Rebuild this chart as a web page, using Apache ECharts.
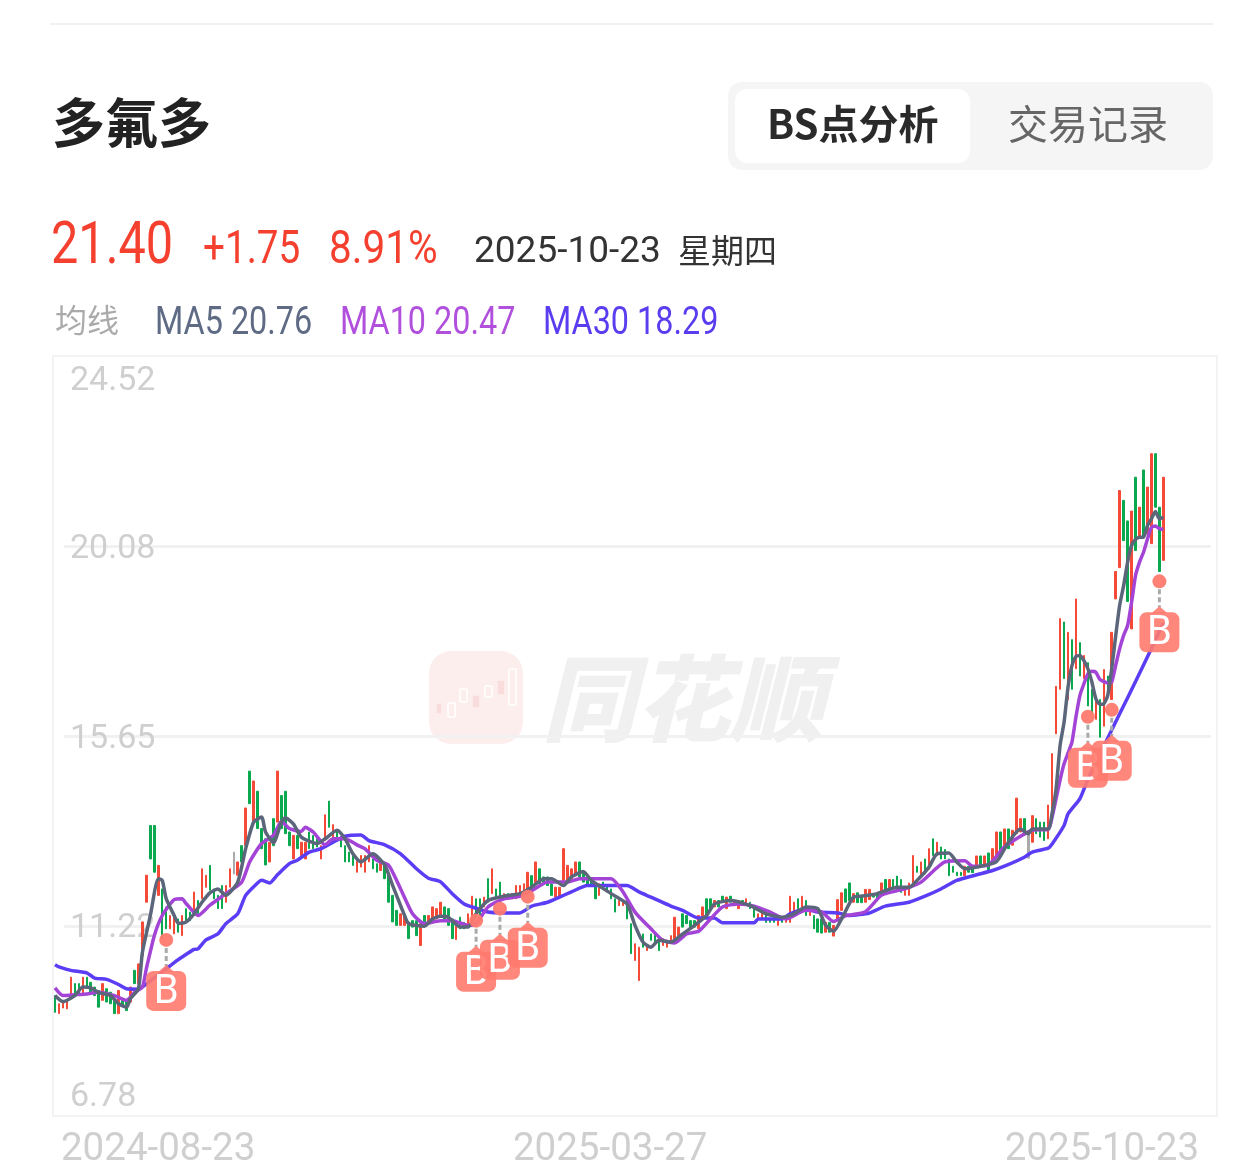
<!DOCTYPE html>
<html>
<head>
<meta charset="utf-8">
<title>多氟多</title>
<script src="https://cdn.jsdelivr.net/npm/echarts@6/dist/echarts.min.js"></script>
<style>
html, body { margin: 0; padding: 0; background: #fff; }
#chart { width: 1260px; height: 1172px; }
</style>
</head>
<body>
<div id="chart"></div>
<script>
var tickLabels = ['2024-08-23', '2025-03-27', '2025-10-23'];
var tickIndex = [0, 141, 292];
var yTicks = [6.78, 11.22, 15.65, 20.08, 24.52];

var opens = [
    9.59, 9.17, 9.30, 9.28, 9.59, 9.87, 9.87, 9.59, 10.02, 9.90,
    9.79, 9.71, 9.48, 9.75, 9.67, 9.48, 9.17, 9.48, 9.44, 9.44,
    10.18, 9.87, 10.53, 11.77, 13.56, 13.56, 11.93, 12.08, 11.66, 11.15,
    11.03, 11.38, 10.99, 11.62, 11.54, 11.46, 11.81, 11.85, 12.12, 12.63,
    12.08, 11.93, 12.16, 11.77, 12.12, 12.94, 12.40, 13.09, 13.09, 14.83,
    13.68, 14.36, 13.49, 13.25, 12.71, 13.72, 13.64, 14.26, 14.36, 13.41,
    12.78, 13.33, 12.86, 12.78, 13.41, 13.33, 13.25, 12.78, 13.21, 14.13,
    13.25, 13.45, 13.25, 13.09, 12.94, 12.90, 12.47, 12.59, 12.47, 12.71,
    12.78, 12.67, 12.51, 12.63, 12.40, 11.93, 11.58, 11.23, 11.23, 11.31,
    11.34, 11.34, 10.76, 11.46, 11.31, 11.38, 11.38, 11.46, 11.66, 11.62,
    11.38, 10.90, 11.42, 11.30, 11.23, 11.34, 11.85, 11.85, 11.66, 12.32,
    11.97, 12.08, 12.24, 11.85, 11.97, 11.85, 11.85, 11.93, 12.01, 12.01,
    12.39, 12.20, 12.55, 12.36, 12.36, 12.20, 11.89, 11.89, 12.28, 12.24,
    12.32, 12.39, 12.71, 12.47, 12.32, 12.28, 12.16, 11.93, 12.24, 12.16,
    12.08, 11.85, 11.69, 11.69, 11.81, 11.27, 10.41, 9.94, 11.03, 10.64,
    11.03, 11.03, 10.88, 10.76, 10.72, 10.84, 10.84, 10.99, 11.50, 11.46,
    11.34, 11.34, 11.15, 11.38, 11.85, 11.85, 11.66, 11.81, 11.91, 11.62,
    11.91, 11.69, 11.62, 11.81, 11.73, 11.77, 11.66, 11.38, 11.38, 11.54,
    11.38, 11.42, 11.23, 11.42, 11.30, 11.30, 11.54, 11.85, 11.66, 11.81,
    11.46, 11.46, 11.38, 11.38, 11.07, 11.30, 10.98, 11.34, 11.58, 12.08,
    12.22, 11.77, 11.99, 11.93, 11.77, 11.83, 11.97, 11.97, 12.00, 12.30,
    12.08, 12.30, 12.38, 12.30, 11.93, 11.93, 12.22, 12.61, 12.39, 12.78,
    12.55, 13.25, 12.86, 13.06, 13.00, 12.78, 12.61, 12.47, 12.47, 12.39,
    12.61, 12.61, 12.61, 12.85, 12.61, 12.92, 12.71, 12.82, 13.41, 13.06,
    13.48, 13.10, 13.37, 13.41, 13.72, 13.37, 13.17, 13.72, 13.64, 13.64,
    13.25, 13.95, 15.70, 16.74, 18.31, 16.50, 17.90, 17.22, 17.83, 16.99,
    17.36, 16.74, 16.04, 16.50, 15.88, 17.05, 16.50, 18.85, 19.58, 21.15,
    20.67, 18.15, 21.69, 20.29, 21.86, 20.37, 20.14, 22.24, 20.99, 19.75
];
var closes = [
    9.20, 9.40, 9.44, 9.48, 10.02, 9.59, 9.63, 10.02, 9.79, 9.63,
    9.59, 9.32, 9.87, 9.44, 9.40, 9.17, 9.71, 9.36, 9.24, 9.79,
    9.87, 10.33, 11.31, 12.40, 12.78, 12.47, 12.63, 10.92, 11.15, 11.46,
    11.46, 11.07, 11.46, 11.34, 11.34, 12.01, 11.50, 12.55, 12.40, 12.05,
    11.85, 11.62, 11.62, 12.16, 12.55, 12.43, 12.71, 12.71, 13.97, 14.07,
    14.60, 13.49, 13.02, 12.64, 13.17, 13.09, 14.83, 13.49, 13.37, 13.09,
    13.33, 13.02, 13.17, 13.17, 13.02, 13.02, 13.06, 13.09, 13.81, 13.52,
    13.58, 13.21, 13.06, 12.71, 12.71, 12.63, 12.75, 12.86, 12.86, 13.09,
    12.55, 12.47, 12.71, 12.32, 11.77, 11.31, 11.23, 11.50, 11.46, 10.92,
    11.19, 10.99, 11.27, 11.31, 11.46, 11.66, 11.62, 11.77, 11.38, 11.23,
    10.92, 11.30, 11.15, 11.15, 11.50, 11.91, 11.46, 11.46, 11.89, 11.77,
    12.55, 11.89, 11.89, 11.97, 11.85, 11.97, 12.16, 12.16, 12.20, 12.47,
    12.12, 12.71, 12.20, 12.24, 12.16, 11.93, 12.12, 12.12, 13.02, 12.63,
    12.55, 12.71, 12.36, 12.24, 12.16, 12.16, 11.85, 12.20, 12.12, 12.01,
    11.85, 11.54, 11.81, 11.81, 11.38, 10.57, 10.80, 10.72, 10.72, 10.76,
    10.88, 10.84, 10.64, 10.92, 10.88, 10.99, 11.42, 11.19, 11.19, 11.27,
    11.15, 11.19, 11.46, 11.66, 11.42, 11.62, 11.81, 11.66, 11.77, 11.89,
    11.77, 11.81, 11.81, 11.73, 11.85, 11.62, 11.42, 11.50, 11.62, 11.30,
    11.30, 11.30, 11.38, 11.30, 11.46, 11.91, 11.77, 11.62, 11.91, 11.46,
    11.62, 11.15, 11.07, 11.05, 11.30, 11.07, 11.23, 11.83, 11.99, 11.77,
    11.81, 11.97, 11.76, 11.76, 12.07, 12.07, 11.89, 11.85, 12.22, 11.97,
    12.30, 12.12, 12.12, 12.00, 12.12, 12.22, 12.86, 12.47, 12.71, 12.43,
    13.02, 12.86, 13.17, 12.78, 12.78, 12.39, 12.47, 12.39, 12.39, 12.61,
    12.47, 12.46, 12.85, 12.61, 12.85, 12.51, 13.02, 13.41, 12.98, 13.48,
    13.02, 13.45, 14.20, 13.72, 13.37, 12.80, 13.79, 13.37, 13.29, 13.21,
    14.04, 15.24, 16.81, 18.39, 16.99, 18.07, 16.74, 18.85, 17.05, 17.53,
    16.35, 16.19, 16.58, 15.62, 17.20, 16.58, 18.07, 19.49, 21.38, 20.21,
    18.79, 20.90, 19.98, 20.99, 20.28, 21.46, 22.24, 20.99, 19.49, 21.69
];
var grayBars = [45, 245];

var ma5Points = [
    [0, 9.59], [2, 9.45], [5, 9.59], [7, 9.79], [9, 9.77], [11, 9.66], [14, 9.59], [16, 9.40], [18, 9.32], [19, 9.52],
    [21, 9.75], [22, 10.60], [24, 11.46], [26, 12.32], [27, 12.28], [28, 11.85], [30, 11.46], [31, 11.28], [33, 11.31], [35, 11.50],
    [37, 11.77], [39, 11.99], [41, 12.08], [43, 11.93], [46, 12.24], [48, 13.02], [50, 13.64], [52, 13.76], [53, 13.41], [55, 13.16],
    [57, 13.64], [58, 13.74], [60, 13.60], [62, 13.29], [66, 13.14], [68, 13.25], [71, 13.45], [73, 13.25], [75, 12.90], [77, 12.71],
    [80, 12.90], [83, 12.64], [85, 12.16], [88, 11.46], [89, 11.27], [93, 11.21], [95, 11.38], [97, 11.44], [99, 11.42], [102, 11.19],
    [104, 11.19], [106, 11.50], [109, 11.81], [113, 11.91], [117, 11.97], [120, 12.12], [123, 12.32], [125, 12.32], [128, 12.16], [130, 12.36],
    [133, 12.49], [135, 12.28], [140, 11.97], [144, 11.73], [146, 11.23], [148, 10.84], [150, 10.72], [152, 10.88], [155, 10.84], [158, 11.03],
    [161, 11.23], [164, 11.46], [166, 11.73], [170, 11.81], [175, 11.69], [179, 11.50], [183, 11.42], [186, 11.50], [189, 11.66], [192, 11.62],
    [194, 11.23], [196, 11.09], [198, 11.38], [201, 11.89], [203, 11.91], [207, 11.97], [212, 12.12], [215, 12.12], [217, 12.28], [220, 12.59],
    [222, 12.90], [225, 12.92], [227, 12.71], [229, 12.55], [232, 12.59], [237, 12.72], [240, 13.17], [243, 13.48], [245, 13.37], [246, 13.48],
    [250, 13.48], [251, 13.85], [252, 14.42], [253, 15.43], [254, 15.97], [255, 16.79], [256, 17.30], [257, 17.51], [258, 17.53], [259, 17.41],
    [260, 17.22], [261, 16.91], [262, 16.52], [263, 16.39], [264, 16.40], [265, 16.60], [266, 17.22], [267, 17.99], [268, 18.70], [269, 19.16],
    [270, 19.71], [271, 20.10], [272, 20.24], [273, 20.29], [274, 20.29], [275, 20.56], [276, 20.72], [277, 20.89], [278, 20.72], [279, 20.76]
];
var ma10Points = [
    [0, 9.77], [2, 9.59], [5, 9.61], [8, 9.63], [11, 9.67], [15, 9.59], [18, 9.48], [20, 9.66], [22, 9.79], [23, 10.22],
    [25, 10.99], [27, 11.46], [30, 11.83], [32, 11.85], [33, 11.74], [36, 11.46], [39, 11.70], [43, 11.97], [47, 12.24], [49, 12.71],
    [52, 13.14], [55, 13.33], [57, 13.66], [59, 13.49], [62, 13.42], [63, 13.52], [65, 13.41], [68, 13.11], [70, 13.25], [73, 13.25],
    [76, 13.11], [78, 13.02], [81, 12.75], [84, 12.63], [87, 12.08], [90, 11.50], [93, 11.27], [97, 11.34], [100, 11.34], [104, 11.23],
    [106, 11.27], [109, 11.66], [113, 11.85], [117, 11.91], [120, 12.04], [124, 12.24], [129, 12.24], [132, 12.32], [140, 12.32], [143, 12.01],
    [146, 11.54], [150, 11.15], [153, 10.88], [156, 10.82], [159, 11.03], [162, 11.09], [165, 11.38], [168, 11.66], [172, 11.73], [176, 11.68],
    [180, 11.54], [184, 11.38], [189, 11.58], [193, 11.54], [196, 11.32], [199, 11.45], [204, 11.55], [208, 11.93], [212, 12.04], [215, 12.12],
    [218, 12.24], [224, 12.71], [229, 12.74], [231, 12.61], [235, 12.64], [239, 13.06], [246, 13.45], [250, 13.47], [251, 13.76], [252, 14.19],
    [253, 14.62], [254, 15.00], [255, 15.25], [256, 15.51], [257, 16.10], [258, 16.60], [259, 16.87], [260, 17.10], [261, 17.16], [262, 17.14],
    [263, 16.97], [264, 16.92], [265, 16.89], [266, 16.91], [267, 17.30], [268, 17.69], [269, 18.00], [270, 18.23], [271, 18.77], [272, 19.40],
    [273, 19.71], [274, 19.94], [275, 20.25], [276, 20.52], [277, 20.55], [278, 20.49], [279, 20.47]
];
var ma30Points = [
    [0, 10.31], [1, 10.26], [4, 10.18], [8, 10.12], [10, 10.00], [13, 9.97], [16, 9.85], [18, 9.75], [21, 9.74], [24, 9.94],
    [27, 10.14], [30, 10.36], [32, 10.49], [35, 10.67], [36, 10.68], [38, 10.89], [41, 11.03], [43, 11.27], [46, 11.50], [48, 11.93],
    [51, 12.22], [52, 12.28], [54, 12.22], [56, 12.41], [59, 12.67], [61, 12.75], [64, 12.94], [67, 13.02], [70, 13.17], [73, 13.31],
    [77, 13.34], [79, 13.21], [83, 13.11], [87, 12.90], [91, 12.55], [94, 12.33], [97, 12.25], [100, 11.97], [103, 11.73], [106, 11.63],
    [109, 11.54], [113, 11.52], [117, 11.52], [120, 11.68], [124, 11.77], [127, 11.89], [130, 12.01], [134, 12.16], [140, 12.16], [144, 12.16],
    [147, 12.01], [150, 11.89], [155, 11.68], [158, 11.58], [162, 11.40], [166, 11.40], [168, 11.29], [176, 11.29], [177, 11.38], [183, 11.38],
    [185, 11.50], [189, 11.62], [192, 11.54], [197, 11.52], [200, 11.46], [205, 11.52], [209, 11.68], [215, 11.77], [219, 11.91], [223, 12.08],
    [227, 12.28], [232, 12.41], [236, 12.51], [239, 12.61], [244, 12.82], [246, 12.94], [250, 13.03], [251, 13.13], [254, 13.56], [255, 13.83],
    [258, 14.19], [260, 14.64], [264, 15.41], [268, 16.17], [272, 16.92], [276, 17.69], [279, 18.29]
];

var bsIndex = [28, 106, 112, 119, 260, 266, 278];
var bsPrice = [10.89, 11.34, 11.62, 11.90, 16.10, 16.26, 19.26];

var RED = '#f44a37';
var GREEN = '#0aa84f';
var GRAY = '#aaaaaa';
var SLATE = '#5c667a';
var PURPLE = '#a344d6';
var BLUE = '#5a3df5';
var MARK = '#ff7a6e';
var AXIS_TEXT = '#cfcfcf';
var CJK = '"Noto Sans CJK SC", sans-serif';

var categories = [];
for (var i = 0; i < 293; i++) {
    var at = tickIndex.indexOf(i);
    categories.push(at >= 0 ? tickLabels[at] : '');
}

var candleData = opens.map(function (o, i) {
    var c = closes[i];
    var item = { value: [o, c, Math.min(o, c), Math.max(o, c)] };
    if (grayBars.indexOf(i) >= 0) {
        item.itemStyle = { color: GRAY, color0: GRAY, borderColor: GRAY, borderColor0: GRAY };
    }
    return item;
});

function text(str, x, y, font, fill, squeeze) {
    return {
        type: 'text',
        x: x,
        y: y,
        z: 10,
        scaleX: squeeze || 1,
        style: { text: str, font: font, fill: fill, align: 'left', verticalAlign: 'middle' }
    };
}

function box(x, y, w, h, r, fill, z) {
    return {
        type: 'rect',
        z: z === undefined ? 1 : z,
        shape: { x: x, y: y, width: w, height: h, r: r },
        style: { fill: fill }
    };
}

// the logo candles in the watermark
function logoCandle(x, y, w, h, filled) {
    return {
        type: 'rect',
        z: -1,
        shape: { x: x, y: y, width: w, height: h, r: 1 },
        style: { fill: filled ? '#f9dcdc' : '#fdeeee', stroke: filled ? '#fdeeee' : '#ffffff', lineWidth: 1.5 }
    };
}

var graphics = [
    { type: 'line', z: 1, shape: { x1: 50, y1: 24, x2: 1213, y2: 24 }, style: { stroke: '#f0f0f0', lineWidth: 2 } },
    text('多氟多', 52, 123, 'bold 53px ' + CJK, '#222222'),
    box(728, 82, 485, 88, 14, '#f5f5f5'),
    box(735, 89, 235, 74, 12, '#ffffff', 2),
    text('BS点分析', 767, 124, 'bold 40px ' + CJK, '#2a2a2a'),
    text('交易记录', 1008, 124, '40px ' + CJK, '#666666'),
    text('21.40', 51, 248, '60px Roboto', '#f5402f', 0.81),
    text('+1.75', 203, 251, '46px Roboto', '#f5402f', 0.84),
    text('8.91%', 329, 251, '46px Roboto', '#f5402f', 0.88),
    text('2025-10-23', 474, 253, '37px Roboto', '#333333'),
    text('星期四', 678, 250, '33px ' + CJK, '#333333'),
    text('均线', 55, 320, '32px ' + CJK, '#aaaaaa'),
    text('MA5 20.76', 155, 324, '39px Roboto', '#5f6b85', 0.83),
    text('MA10 20.47', 340, 324, '39px Roboto', '#b150dc', 0.83),
    text('MA30 18.29', 543, 324, '39px Roboto', '#5b3df0', 0.83),
    // watermark
    box(429, 651, 94, 93, 22, '#fdeeee', -1),
    logoCandle(436, 703, 6, 11, true),
    logoCandle(448, 703, 7, 14, false),
    logoCandle(460, 689, 7, 13, false),
    logoCandle(472, 695, 8, 13, true),
    logoCandle(485, 686, 7, 11, false),
    logoCandle(497, 680, 8, 15, true),
    logoCandle(509, 669, 7, 36, false),
    {
        type: 'text',
        x: 542,
        y: 698,
        z: -1,
        style: { text: '同花顺', font: 'italic 900 94px ' + CJK, fill: '#f0f0f0', align: 'left', verticalAlign: 'middle' }
    }
];

var chart = echarts.init(document.getElementById('chart'));

var option = {
    backgroundColor: '#ffffff',
    animation: false,
    graphic: graphics,
    grid: [{
        left: 53,
        width: 1164,
        top: 356,
        height: 760,
        show: true,
        backgroundColor: 'transparent',
        borderColor: '#f3f3f3',
        borderWidth: 2
    }, {
        left: 64,
        width: 1147,
        top: 356,
        height: 760
    }],
    xAxis: [{
        type: 'category',
        gridIndex: 0,
        data: categories,
        axisLine: { show: false },
        axisTick: { show: false },
        splitLine: { show: false },
        axisLabel: {
            show: true,
            interval: function (idx) { return tickIndex.indexOf(idx) >= 0; },
            hideOverlap: false,
            alignMinLabel: 'left',
            alignMaxLabel: 'right',
            color: AXIS_TEXT,
            fontFamily: 'Roboto',
            fontSize: 38.5,
            margin: 15,
            padding: [0, 16, 0, 6]
        }
    }, {
        type: 'category',
        gridIndex: 1,
        data: categories,
        show: false
    }],
    yAxis: [{
        type: 'value',
        gridIndex: 0,
        min: yTicks[0],
        max: yTicks[yTicks.length - 1],
        axisLine: { show: false },
        axisTick: { show: false, customValues: yTicks },
        splitLine: { show: false },
        axisLabel: {
            inside: true,
            margin: 17,
            customValues: yTicks,
            formatter: function (v) { return '{t|' + v.toFixed(2) + '}'; },
            rich: {
                t: {
                    color: AXIS_TEXT,
                    fontFamily: 'Roboto',
                    fontSize: 34,
                    padding: [6, 0, 0, 0]
                }
            },
            padding: [2, 0, 2, 0],
            verticalAlignMinLabel: 'bottom',
            verticalAlignMaxLabel: 'top'
        }
    }, {
        type: 'value',
        gridIndex: 1,
        min: yTicks[0],
        max: yTicks[yTicks.length - 1],
        axisLine: { show: false },
        axisLabel: { show: false },
        axisTick: { show: false, customValues: yTicks.slice(1, -1) },
        splitLine: { show: true, lineStyle: { color: '#f1f1f1', width: 3 } }
    }],
    series: [{
        name: 'K',
        type: 'candlestick',
        xAxisIndex: 0,
        yAxisIndex: 0,
        barWidth: 2,
        data: candleData,
        itemStyle: { color: RED, color0: GREEN, borderColor: RED, borderColor0: GREEN, borderWidth: 1 },
        z: 3
    }, {
        name: 'MA30',
        type: 'line',
        xAxisIndex: 0,
        yAxisIndex: 0,
        data: ma30Points,
        showSymbol: false,
        smooth: 0.2,
        lineStyle: { color: BLUE, width: 3.5 },
        z: 4
    }, {
        name: 'MA10',
        type: 'line',
        xAxisIndex: 0,
        yAxisIndex: 0,
        data: ma10Points,
        showSymbol: false,
        smooth: 0.2,
        lineStyle: { color: PURPLE, width: 3.5 },
        z: 5
    }, {
        name: 'MA5',
        type: 'line',
        xAxisIndex: 0,
        yAxisIndex: 0,
        data: ma5Points,
        showSymbol: false,
        smooth: 0.2,
        lineStyle: { color: SLATE, width: 3.5 },
        z: 6
    }, {
        name: 'BS',
        type: 'custom',
        xAxisIndex: 0,
        yAxisIndex: 0,
        z: 7,
        data: bsIndex.map(function (idx, i) { return [idx, bsPrice[i]]; }),
        renderItem: function (params, api) {
            var p = api.coord([api.value(0), api.value(1)]);
            var cx = p[0], cy = p[1];
            return {
                type: 'group',
                children: [{
                    type: 'line',
                    shape: { x1: cx, y1: cy + 8, x2: cx, y2: cy + 26 },
                    style: { stroke: '#aaaaaa', lineWidth: 3, lineDash: [5, 3] }
                }, {
                    type: 'circle',
                    shape: { cx: cx, cy: cy, r: 7 },
                    style: { fill: MARK, opacity: 0.95 }
                }, {
                    type: 'polygon',
                    shape: { points: [[cx - 8, cy + 32], [cx, cy + 25], [cx + 8, cy + 32]] },
                    style: { fill: MARK, opacity: 0.9 }
                }, {
                    type: 'rect',
                    shape: { x: cx - 20, y: cy + 31, width: 40, height: 40, r: 7 },
                    style: { fill: MARK, opacity: 0.9 }
                }, {
                    type: 'text',
                    x: cx,
                    y: cy + 53,
                    style: { text: 'B', font: '40px Roboto', fill: '#ffffff', align: 'center', verticalAlign: 'middle' }
                }]
            };
        }
    }]
};

chart.setOption(option);
</script>
</body>
</html>
